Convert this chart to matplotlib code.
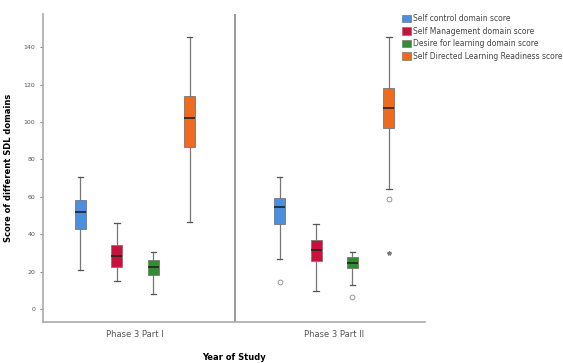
import matplotlib.pyplot as plt
from matplotlib.patches import Patch

groups = ['Phase 3 Part I', 'Phase 3 Part II']
domains = ['Self control domain score', 'Self Management domain score',
           'Desire for learning domain score', 'Self Directed Learning Readiness score']
colors = ['#4a8fe0', '#c8123c', '#2f8f2f', '#f06a1e']

# per group, per domain: [whislo, q1, med, q3, whishi]
part1 = [[20.8, 42.6, 51.7, 58.3, 70.7],
         [15.0, 22.6, 28.3, 34.2, 45.8],
         [7.8, 18.2, 22.6, 26.5, 30.3],
         [46.7, 86.7, 102.4, 113.8, 145.5]]
part2 = [[26.7, 45.4, 54.7, 59.5, 70.7],
         [9.8, 25.8, 31.5, 36.9, 45.4],
         [12.8, 21.7, 24.8, 27.9, 30.6],
         [64.0, 96.6, 107.6, 118.3, 145.5]]
outliers1 = [[], [], [], []]
outliers2 = [[14.6], [], [6.6], [58.8]]
extremes2 = [[], [], [], [29.8]]

fig = plt.figure(figsize=(5.63, 3.63), dpi=100)
ax = fig.add_axes([0.0764, 0.113, 0.679, 0.848])

step = 0.183
offsets = [-1.5 * step, -0.5 * step, 0.5 * step, 1.5 * step]

for g, (stats_g, outs_g) in enumerate([(part1, outliers1), (part2, outliers2)]):
    for d in range(4):
        lo, q1, med, q3, hi = stats_g[d]
        st = [dict(whislo=lo, q1=q1, med=med, q3=q3, whishi=hi, fliers=outs_g[d])]
        ax.bxp(st, positions=[g + offsets[d]], widths=0.055, patch_artist=True,
               showfliers=True,
               boxprops=dict(facecolor=colors[d], edgecolor='#777777', linewidth=0.6),
               medianprops=dict(color='#222222', linewidth=1.2),
               whiskerprops=dict(color='#777777', linewidth=0.9),
               capprops=dict(color='#555555', linewidth=0.9),
               flierprops=dict(marker='o', markersize=3.5, markerfacecolor='none',
                               markeredgecolor='#888888', markeredgewidth=0.6))
for d in range(4):
    if extremes2[d]:
        ax.plot([1 + offsets[d]] * len(extremes2[d]), extremes2[d], marker='*',
                ls='none', ms=3, color='#777777')

ax.axvline(0.5, color='#999999', linewidth=1.4)

ax.set_xlim(-0.462, 1.457)
ax.set_ylim(-6.9, 157.7)
ax.set_yticks(range(0, 141, 20))
ax.tick_params(axis='y', labelsize=4.5, colors='#555555', length=2, width=0.5)
ax.set_xticks([0.0, 1.0])
ax.set_xticklabels(groups, fontsize=6, color='#555555')
ax.tick_params(axis='x', length=0, pad=6)

for s in ['top', 'right']:
    ax.spines[s].set_visible(False)
for s in ['left', 'bottom']:
    ax.spines[s].set_color('#aaaaaa')
    ax.spines[s].set_linewidth(1.2)

ax.set_ylabel('Score of different SDL domains', fontsize=6, fontweight='bold', labelpad=8)
ax.set_xlabel('Year of Study', fontsize=6, fontweight='bold', labelpad=10)

handles = [Patch(facecolor=c, edgecolor='#777777', linewidth=0.5) for c in colors]
fig.legend(handles, domains, loc='upper left', bbox_to_anchor=(0.712, 0.965),
           fontsize=5.5, frameon=False, handlelength=1.1, handleheight=1.1,
           handletextpad=0.25, labelspacing=0.45, borderpad=0.2, borderaxespad=0,
           labelcolor='#444444')

fig.savefig('out.png', dpi=100)
